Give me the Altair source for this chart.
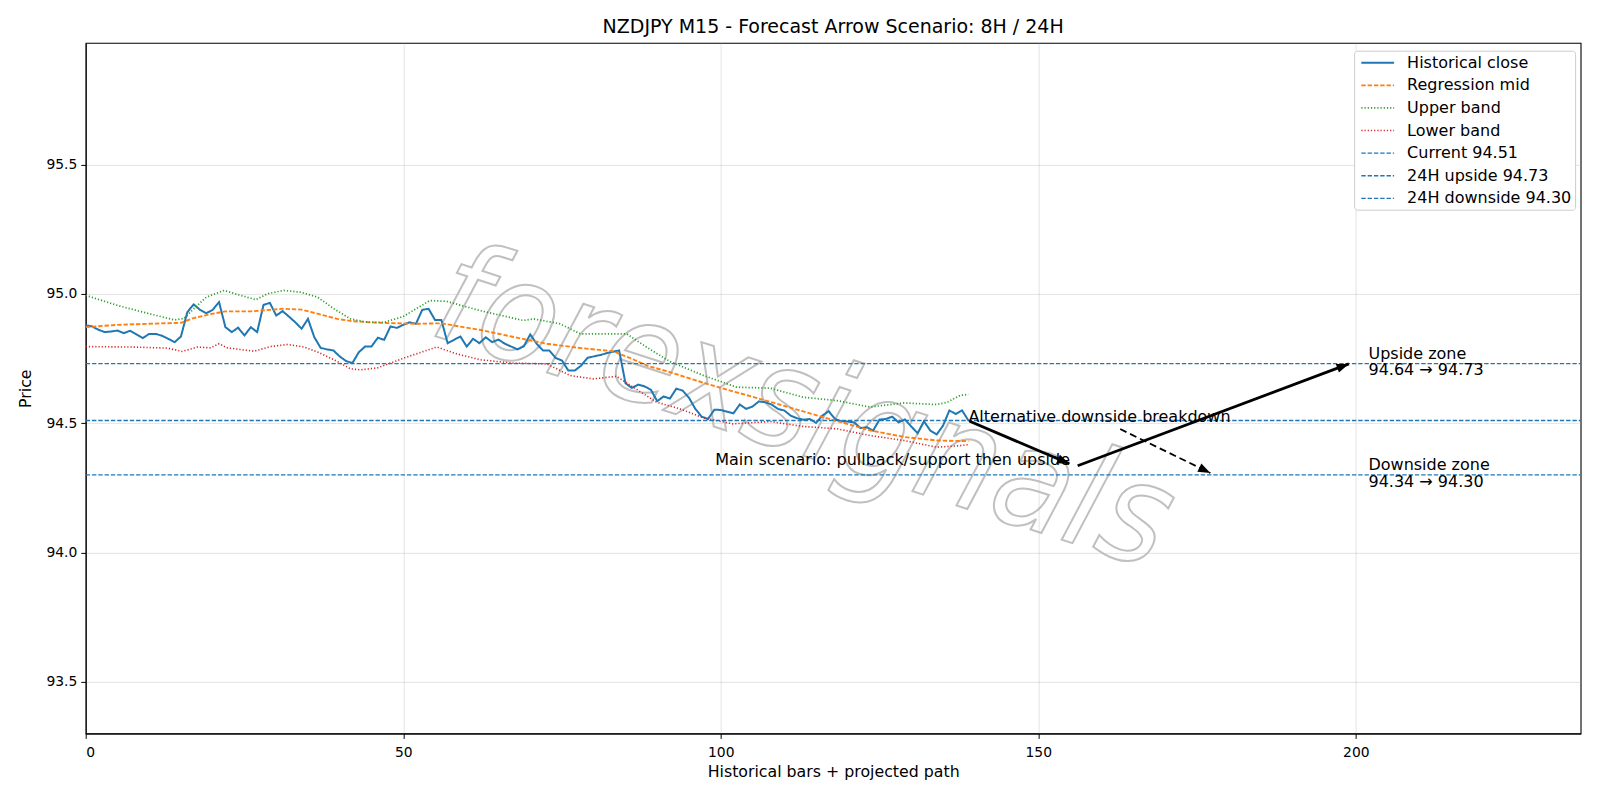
import math
import altair as alt
import pandas as pd

# ---------------- data ----------------
close = [94.878, 94.874, 94.861, 94.852, 94.854, 94.858, 94.848, 94.857, 94.843, 94.829,
         94.845, 94.845, 94.838, 94.826, 94.813, 94.835, 94.929, 94.959, 94.938, 94.925,
         94.938, 94.968, 94.871, 94.852, 94.869, 94.839, 94.871, 94.852, 94.957, 94.965,
         94.916, 94.933, 94.912, 94.890, 94.865, 94.903, 94.832, 94.791, 94.785, 94.781,
         94.758, 94.740, 94.732, 94.774, 94.796, 94.796, 94.830, 94.822, 94.874, 94.868,
         94.880, 94.890, 94.884, 94.938, 94.942, 94.899, 94.899, 94.809, 94.822, 94.835,
         94.796, 94.826, 94.809, 94.832, 94.813, 94.823, 94.807, 94.796, 94.785, 94.797,
         94.843, 94.807, 94.781, 94.781, 94.752, 94.742, 94.703, 94.703, 94.722, 94.752,
         94.758, 94.763, 94.770, 94.776, 94.781, 94.654, 94.636, 94.649, 94.642, 94.629,
         94.585, 94.603, 94.595, 94.633, 94.626, 94.598, 94.555, 94.525, 94.516, 94.552,
         94.551, 94.544, 94.538, 94.572, 94.555, 94.564, 94.584, 94.581, 94.572, 94.555,
         94.549, 94.529, 94.519, 94.513, 94.516, 94.501, 94.529, 94.546, 94.516, 94.507,
         94.506, 94.503, 94.481, 94.484, 94.471, 94.514, 94.516, 94.525, 94.503, 94.514,
         94.487, 94.461, 94.507, 94.471, 94.456, 94.490, 94.549, 94.535, 94.549, 94.510]

reg_x = [0, 5, 10, 15, 17, 20, 22, 26, 29, 31, 34, 36.5, 39.6, 42, 46, 52, 56, 59.5, 62, 67,
         72.6, 78, 83, 85.7, 88.3, 92, 97, 102.5, 108, 113, 118, 123.5, 129, 134, 139]
reg_y = [94.871, 94.880, 94.884, 94.888, 94.906, 94.923, 94.932, 94.932, 94.938, 94.942,
         94.939, 94.923, 94.903, 94.894, 94.888, 94.884, 94.886, 94.871, 94.861, 94.835,
         94.807, 94.790, 94.778, 94.752, 94.723, 94.697, 94.658, 94.619, 94.581, 94.545,
         94.510, 94.472, 94.446, 94.433, 94.430]

up_x = [0, 5, 10, 14, 15.5, 17, 19, 21.8, 24.4, 26.8, 28.6, 31.2, 33.9, 36.5, 39.1, 41.7,
        44.4, 47, 50, 54.2, 56.8, 62.1, 68.9, 70.5, 74.7, 77.9, 85.2, 88.3, 92, 97.3, 102.5,
        107.8, 113, 118.3, 123.5, 128.8, 134, 135.6, 137.7, 139]
up_y = [94.994, 94.955, 94.923, 94.899, 94.905, 94.942, 94.987, 95.013, 94.994, 94.977,
        95.000, 95.013, 95.006, 94.987, 94.942, 94.903, 94.890, 94.890, 94.912, 94.974,
        94.971, 94.935, 94.897, 94.903, 94.884, 94.845, 94.845, 94.794, 94.738, 94.684,
        94.639, 94.635, 94.600, 94.587, 94.562, 94.578, 94.572, 94.580, 94.607, 94.611]

lo_x = [0, 7.6, 12.9, 15.2, 17.6, 19.7, 21, 22.3, 26.5, 29.1, 31.8, 34.4, 36.5, 39.1, 41.7,
        43.3, 46, 50.5, 55.3, 58.4, 62.1, 67.3, 72.6, 76.3, 79.9, 83.6, 86.2, 89.9, 93.6,
        97.3, 101.9, 107.8, 113, 118.3, 123.5, 128.8, 134, 137.7, 139]
lo_y = [94.796, 94.794, 94.790, 94.777, 94.794, 94.791, 94.807, 94.791, 94.778, 94.796,
        94.804, 94.794, 94.775, 94.745, 94.710, 94.706, 94.714, 94.755, 94.794, 94.768,
        94.745, 94.732, 94.729, 94.684, 94.671, 94.681, 94.639, 94.581, 94.555, 94.520,
        94.497, 94.506, 94.487, 94.478, 94.452, 94.433, 94.407, 94.413, 94.417]

current = 94.51
up24 = 94.73
dn24 = 94.30

series_names = ["Historical close", "Regression mid", "Upper band", "Lower band",
                "Current 94.51", "24H upside 94.73", "24H downside 94.30"]
series_colors = ["#1f77b4", "#ff7f0e", "#2ca02c", "#d62728", "#1f77b4", "#1f77b4", "#1f77b4"]
series_dash = [[1, 0], [4.4, 1.9], [1.2, 2.0], [1.2, 2.0], [4.4, 1.9], [4.4, 1.9], [4.4, 1.9]]
series_width = [2.0, 1.2, 1.1, 1.1, 1.2, 1.2, 1.2]

# arrows (x1, y1, x2, y2)
solid_arrows = [(139.2, 94.507, 154.9, 94.343), (156.2, 94.335, 198.9, 94.729)]
dashed_arrows = [(162.9, 94.477, 177.1, 94.307)]

alt_text = "Alternative downside breakdown"
alt_text_pos = (139, 94.505)
main_text = "Main scenario: pullback/support then upside"
main_text_pos = (155.0, 94.337)

zone_text = [["Upside zone", "94.64 → 94.73"], ["Downside zone", "94.34 → 94.30"]]
zone_x = [202, 202]
zone_y = [94.73, 94.30]

watermark_text = "forexsignals"

x_min, x_max = 0, 235.4
y_min, y_max = 93.30, 95.97
W, H = 1495, 690.6

# ---------------- frames ----------------
rows = []
for i, v in enumerate(close):
    rows.append({"series": "Historical close", "x": i, "y": v, "o": i})
for k, (xx, yy) in enumerate(zip(reg_x, reg_y)):
    rows.append({"series": "Regression mid", "x": xx, "y": yy, "o": k})
for k, (xx, yy) in enumerate(zip(up_x, up_y)):
    rows.append({"series": "Upper band", "x": xx, "y": yy, "o": k})
for k, (xx, yy) in enumerate(zip(lo_x, lo_y)):
    rows.append({"series": "Lower band", "x": xx, "y": yy, "o": k})
for name, val in zip(series_names[4:], [current, up24, dn24]):
    rows.append({"series": name, "x": x_min, "y": val, "o": 0})
    rows.append({"series": name, "x": x_max, "y": val, "o": 1})
lines_df = pd.DataFrame(rows)

sx = W / (x_max - x_min)
sy = H / (y_max - y_min)


def head_angle(x1, y1, x2, y2):
    dx = (x2 - x1) * sx
    dyv = (y2 - y1) * sy
    return math.degrees(math.atan2(dx, dyv)) % 360


arrow_rows = []
for (x1, y1, x2, y2) in solid_arrows:
    arrow_rows.append({"x": x1, "y": y1, "x2": x2, "y2": y2, "kind": "solid",
                       "ang": head_angle(x1, y1, x2, y2)})
for (x1, y1, x2, y2) in dashed_arrows:
    arrow_rows.append({"x": x1, "y": y1, "x2": x2, "y2": y2, "kind": "dashed",
                       "ang": head_angle(x1, y1, x2, y2)})
arrows_df = pd.DataFrame(arrow_rows)

alt_df = pd.DataFrame({"t": [alt_text], "x": [alt_text_pos[0]], "y": [alt_text_pos[1]]})
main_df = pd.DataFrame({"t": [main_text], "x": [main_text_pos[0]], "y": [main_text_pos[1]]})
zone_df = pd.DataFrame({"t": zone_text, "x": zone_x, "y": zone_y})
wm_df = pd.DataFrame({"t": [watermark_text], "x": [113.0], "y": [94.545]})

FONT = "DejaVu Sans"
FS = 16.0
xs = alt.Scale(domain=[x_min, x_max], nice=False, zero=False)
ys = alt.Scale(domain=[y_min, y_max], nice=False, zero=False)

X = alt.X("x:Q", scale=xs,
          axis=alt.Axis(values=[0, 50, 100, 150, 200], format="d",
                        title="Historical bars + projected path", grid=True))
Y = alt.Y("y:Q", scale=ys,
          axis=alt.Axis(values=[93.5, 94.0, 94.5, 95.0, 95.5], format=".1f",
                        title="Price", grid=True))

watermark = alt.Chart(wm_df).mark_text(
    font="DejaVu Sans Condensed, DejaVu Sans", fontSize=140, fontStyle="italic",
    angle=18, align="center", baseline="middle", fill="#ffffff", fillOpacity=0.0,
    stroke="#b5b5b5", strokeWidth=2.0, strokeOpacity=0.85
).encode(x=alt.X("x:Q", scale=xs), y=alt.Y("y:Q", scale=ys), text="t:N")

lines = alt.Chart(lines_df).mark_line(clip=True).encode(
    x=X, y=Y, order="o:Q",
    color=alt.Color("series:N",
                    scale=alt.Scale(domain=series_names, range=series_colors),
                    legend=alt.Legend(title=None, orient="none", legendX=1268.5, legendY=7.8,
                                      symbolType="M-0.6,0L3.5,0", symbolSize=256,
                                      symbolStrokeWidth=1.6, labelFont=FONT,
                                      labelFontSize=FS, labelColor="#000000",
                                      fillColor="#ffffff", strokeColor="#cccccc",
                                      cornerRadius=3, padding=3, rowPadding=5.6,
                                      labelOffset=32, labelLimit=400)),
    strokeDash=alt.StrokeDash("series:N",
                              scale=alt.Scale(domain=series_names, range=series_dash),
                              legend=alt.Legend(title=None, orient="none")),
    strokeWidth=alt.StrokeWidth("series:N",
                                scale=alt.Scale(domain=series_names, range=series_width),
                                legend=None),
)

solid_rules = alt.Chart(arrows_df).transform_filter(alt.datum.kind == "solid").mark_rule(
    color="black", strokeWidth=2.8).encode(
    x=alt.X("x:Q", scale=xs), y=alt.Y("y:Q", scale=ys), x2="x2:Q", y2="y2:Q")
dashed_rules = alt.Chart(arrows_df).transform_filter(alt.datum.kind == "dashed").mark_rule(
    color="black", strokeWidth=1.8, strokeDash=[7, 4]).encode(
    x=alt.X("x:Q", scale=xs), y=alt.Y("y:Q", scale=ys), x2="x2:Q", y2="y2:Q")

heads = alt.Chart(arrows_df).mark_point(
    shape="M0,0L-0.75,2L0.75,2Z", filled=True, color="black", opacity=1, size=150
).encode(x=alt.X("x2:Q", scale=xs), y=alt.Y("y2:Q", scale=ys),
         angle=alt.Angle("ang:Q", scale=None))

alt_label = alt.Chart(alt_df).mark_text(
    font=FONT, fontSize=FS, color="black", baseline="alphabetic", align="left").encode(
    x=alt.X("x:Q", scale=xs), y=alt.Y("y:Q", scale=ys), text="t:N")
main_label = alt.Chart(main_df).mark_text(
    font=FONT, fontSize=FS, color="black", baseline="alphabetic", align="right").encode(
    x=alt.X("x:Q", scale=xs), y=alt.Y("y:Q", scale=ys), text="t:N")

zone_labels = alt.Chart(zone_df).mark_text(
    font=FONT, fontSize=FS, color="black", align="left", baseline="middle",
    lineHeight=16.6, dy=-9.8).encode(
    x=alt.X("x:Q", scale=xs), y=alt.Y("y:Q", scale=ys), text="t")

chart = alt.layer(watermark, lines, solid_rules, dashed_rules, heads,
                  alt_label, main_label, zone_labels).properties(
    width=W, height=H,
    title=alt.TitleParams("NZDJPY M15 - Forecast Arrow Scenario: 8H / 24H", font=FONT,
                          fontSize=19.0, fontWeight="normal", color="black", offset=5.5,
                          anchor="middle"),
    autosize=alt.AutoSizeParams(type="none"),
    padding={"left": 85.7, "top": 42.9, "right": 19.4, "bottom": 66.5},
    background="white",
).configure_view(
    stroke="black", strokeWidth=1.1
).configure_axis(
    labelFont=FONT, labelFontSize=13.9, labelColor="black", titleFont=FONT,
    titleFontSize=15.8, titleFontWeight="normal", titleColor="black",
    tickColor="black", tickSize=4.9, tickWidth=1, labelPadding=4,
    domainColor="black", gridColor="#b0b0b0", gridOpacity=0.35, gridWidth=1
).configure_axisY(titlePadding=12).configure_axisX(titlePadding=5, labelPadding=7)

chart.save("out.html", embed_options={"renderer": "svg", "actions": False})
